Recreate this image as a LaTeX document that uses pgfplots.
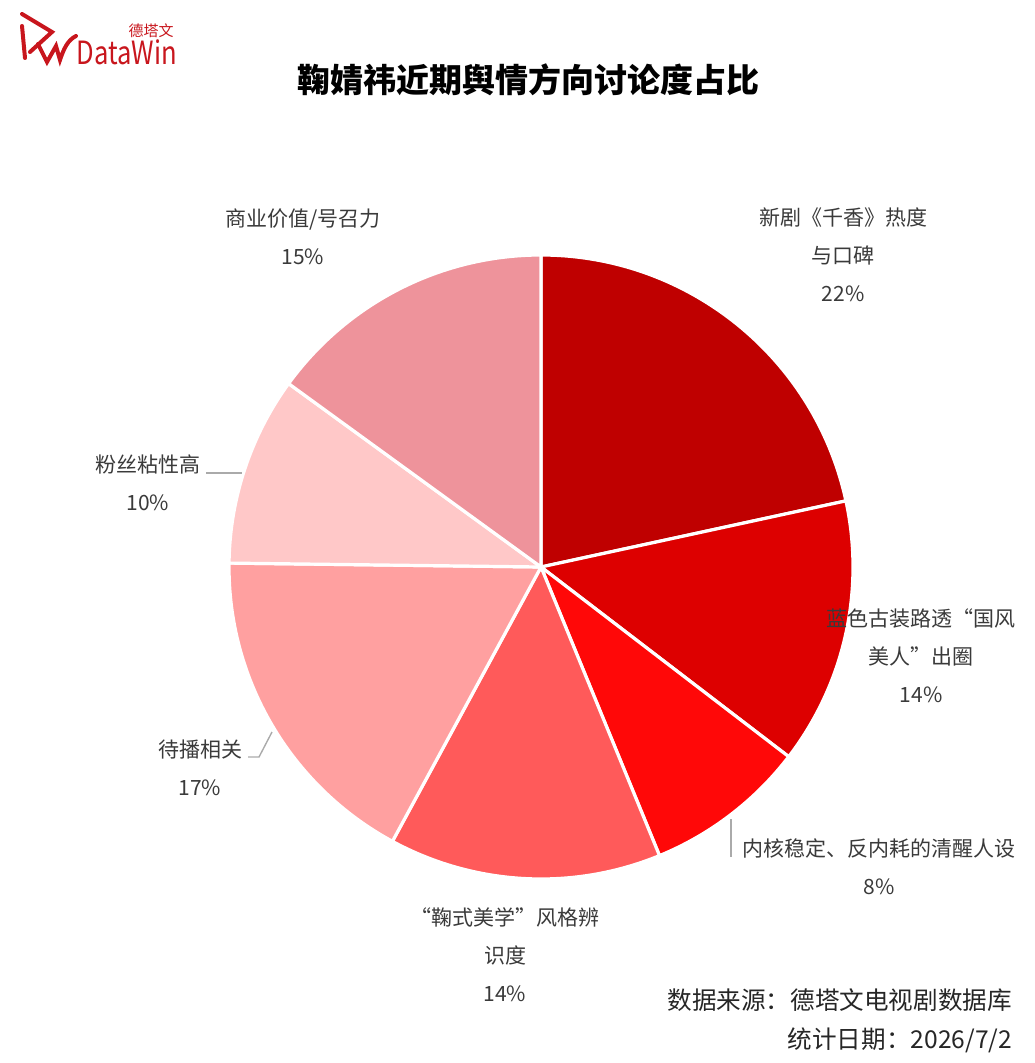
\documentclass[border=0pt]{standalone}
\usepackage{pgfplots}
\pgfplotsset{compat=1.18}
\usepackage{pgfplotstable}
\usepackage{fontspec}
\setmainfont{Noto Sans CJK SC}
\definecolor{c0}{HTML}{BF0000}
\definecolor{c1}{HTML}{DD0000}
\definecolor{c2}{HTML}{FF0808}
\definecolor{c3}{HTML}{FF5A5A}
\definecolor{c4}{HTML}{FFA0A0}
\definecolor{c5}{HTML}{FFC8C8}
\definecolor{c6}{HTML}{EE939B}
\definecolor{lbl}{HTML}{3A3A3A}
\definecolor{logored}{HTML}{C8161D}
\definecolor{leader}{HTML}{AAAAAA}
\pgfplotstableread{
v
21.6
13.8
8.4
14.1
17.3
9.8
15.0
}\piedata
\begin{document}
\begin{tikzpicture}
\def\cum{0}
\pgfplotsforeachungrouped \i in {0,...,6}{%
  \pgfplotstablegetelem{\i}{v}\of\piedata
  \pgfmathsetmacro\s{90-3.6*\cum}%
  \pgfmathsetmacro\cum{\cum+\pgfplotsretval}%
  \pgfmathsetmacro\e{90-3.6*\cum}%
  \expandafter\xdef\csname sa\i\endcsname{\s}%
  \expandafter\xdef\csname ea\i\endcsname{\e}%
}
\begin{axis}[
  x=0.5pt, y=0.5pt,
  xmin=0, xmax=1034, ymin=0, ymax=1063,
  y dir=reverse,
  hide axis, clip=false,
]
\path (axis cs:0,0) rectangle (axis cs:1034,1063);
\pgfplotsinvokeforeach{0,...,6}{
  \fill[c#1, draw=white, line width=1.6pt, line join=round]
    (axis cs:541,567) -- ++(\csname sa#1\endcsname:156pt)
    arc[start angle=\csname sa#1\endcsname, end angle=\csname ea#1\endcsname, radius=156pt] -- cycle;
}
% leader lines
\draw[leader, line width=0.7pt] (axis cs:206,473) -- (axis cs:242,473);
\draw[leader, line width=0.7pt] (axis cs:248,757) -- (axis cs:259,757) -- (axis cs:272,732);
\draw[leader, line width=0.7pt] (axis cs:731,819) -- (axis cs:731,857);
% labels
\begin{scope}[every node/.style={text=lbl, align=center, font=\fontsize{10.5pt}{19pt}\selectfont}]
\node at (axis cs:843,255) {新剧《千香》热度\\与口碑\\22\%};
\node at (axis cs:921,656) {蓝色古装路透“国风\\美人”出圈\\14\%};
\node at (axis cs:879,867) {内核稳定、反内耗的清醒人设\\8\%};
\node at (axis cs:505,955) {“鞠式美学”风格辨\\识度\\14\%};
\node at (axis cs:200,768) {待播相关\\17\%};
\node at (axis cs:148,483) {粉丝粘性高\\10\%};
\node at (axis cs:303,237) {商业价值/号召力\\15\%};
\end{scope}
% title
\node[font=\bfseries\fontsize{16.5pt}{19pt}\selectfont] at (axis cs:528,80) {鞠婧祎近期舆情方向讨论度占比};
% source
\node[anchor=east, text=black!85, font=\fontsize{12.3pt}{14pt}\selectfont] at (axis cs:1019,1000) {数据来源：德塔文电视剧数据库};
\node[anchor=east, text=black!85, font=\fontsize{12.3pt}{14pt}\selectfont] at (axis cs:1019,1040) {统计日期：2026/7/2};
% logo
\node[text=logored, font=\fontsize{16pt}{18pt}\selectfont, xscale=0.8] at (axis cs:127,52) {DataWin};
\node[text=logored, font=\fontsize{7.5pt}{9pt}\selectfont] at (axis cs:151,31) {德塔文};
\draw[logored, line width=2pt, line cap=round] (axis cs:22,14) -- (axis cs:52,32) -- (axis cs:30,52);
\draw[logored, line width=2pt, line cap=round] (axis cs:22,26) -- (axis cs:25,58);
\draw[logored, line width=2pt, line cap=round] (axis cs:38,44) -- (axis cs:47,62) -- (axis cs:56,46) -- (axis cs:60,60) .. controls (axis cs:64,48) and (axis cs:68,40) .. (axis cs:76,36);
\end{axis}
\end{tikzpicture}
\end{document}
